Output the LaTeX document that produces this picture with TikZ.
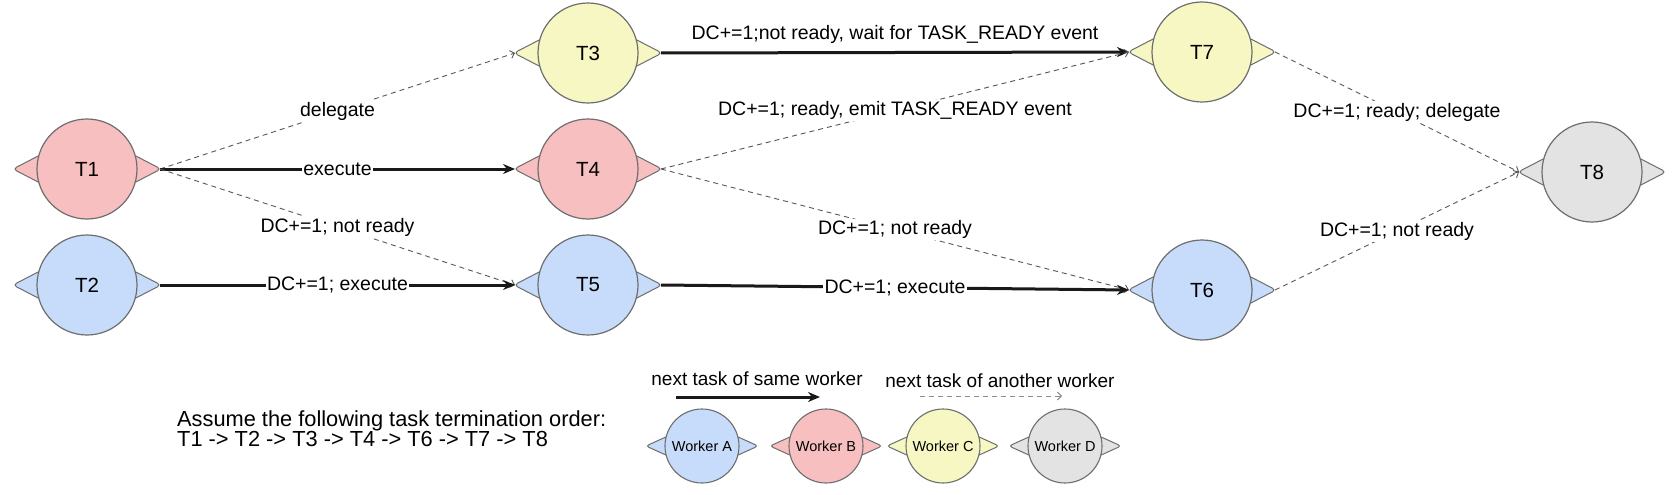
\documentclass[tikz,border=0pt]{standalone}
\usepackage{fontspec}
\setmainfont{Liberation Sans}
\usetikzlibrary{arrows.meta}
\definecolor{cpink}{RGB}{248,191,192}
\definecolor{cblue}{RGB}{199,219,250}
\definecolor{cyellow}{RGB}{247,247,196}
\definecolor{cgray}{RGB}{227,227,227}
\definecolor{cline}{RGB}{110,110,110}
\tikzset{
 task/.style={circle, draw=cline, line width=1.2pt, minimum size=100pt, inner sep=0pt, font=\fontsize{20.5}{24}\selectfont},
 worker/.style={circle, draw=cline, line width=1.1pt, minimum size=74pt, inner sep=0pt, font=\fontsize{14.5}{16}\selectfont},
 tri/.style={draw=cline, line width=1pt, rounded corners=4pt},
 seq/.style={line width=3pt, draw=black!90, -{Stealth[length=12pt,width=10pt]}},
 dep/.style={draw=black!65, line width=0.9pt, dash pattern=on 5pt off 4pt, -{Straight Barb[length=4pt,width=8pt]}},
 depl/.style={draw=black!45, line width=0.9pt, dash pattern=on 5pt off 4pt, -{Straight Barb[length=4pt,width=8pt]}},
 lbl/.style={fill=white, inner sep=1.5pt, font=\fontsize{19.5}{22}\selectfont, text=black},
 legtext/.style={inner sep=0pt, font=\fontsize{19}{21}\selectfont},
}
\newcommand{\tasknode}[5]{%
 \path[tri, fill=#4] (#2+45,#3-15) -- (#2+74,#3) -- (#2+45,#3+15) -- cycle;
 \path[tri, fill=#4] (#2-45,#3-15) -- (#2-74,#3) -- (#2-45,#3+15) -- cycle;
 \coordinate (#1-r) at (#2+73,#3);
 \coordinate (#1-l) at (#2-73,#3);
 \node[task, fill=#4] (#1) at (#2,#3) {#5};
}
\newcommand{\workernode}[5]{%
 \path[tri, fill=#4, rounded corners=3pt] (#2+34,#3-10) -- (#2+56,#3) -- (#2+34,#3+10) -- cycle;
 \path[tri, fill=#4, rounded corners=3pt] (#2-34,#3-10) -- (#2-56,#3) -- (#2-34,#3+10) -- cycle;
 \node[worker, fill=#4] (#1) at (#2,#3) {#5};
}
\begin{document}
\begin{tikzpicture}[x=1pt,y=-1pt]
\fill[white] (0,0) rectangle (1679,495);
\useasboundingbox (0,0) rectangle (1679,495);
\tasknode{T1}{87}{169}{cpink}{T1}
\tasknode{T2}{87}{285}{cblue}{T2}
\tasknode{T3}{588}{53}{cyellow}{T3}
\tasknode{T4}{588}{169}{cpink}{T4}
\tasknode{T5}{588}{285}{cblue}{T5}
\tasknode{T7}{1202}{52}{cyellow}{T7}
\tasknode{T6}{1202}{290}{cblue}{T6}
\tasknode{T8}{1592}{172}{cgray}{T8}

\draw[dep] (T1-r) -- node[lbl]{delegate} (T3-l);
\draw[seq] (T1-r) -- node[lbl]{execute} (T4-l);
\draw[dep] (T1-r) -- node[lbl]{DC+=1; not ready} (T5-l);
\draw[seq] (T2-r) -- node[lbl]{DC+=1; execute} (T5-l);
\draw[seq] (T3-r) -- node[lbl, fill=none, above=6pt]{DC+=1;not ready, wait for TASK\_READY event} (T7-l);
\draw[dep] (T4-r) -- node[lbl]{DC+=1; ready, emit TASK\_READY event} (T7-l);
\draw[dep] (T4-r) -- node[lbl]{DC+=1; not ready} (T6-l);
\draw[seq] (T5-r) -- node[lbl]{DC+=1; execute} (T6-l);
\draw[dep] (T7-r) -- node[lbl]{DC+=1; ready; delegate} (T8-l);
\draw[dep] (T6-r) -- node[lbl]{DC+=1; not ready} (T8-l);

% legend
\node[anchor=north west, align=left, inner sep=0pt, font=\fontsize{21.8}{20.5}\selectfont] (note) at (177,410)
 {Assume the following task termination order:\\T1 -> T2 -> T3 -> T4 -> T6 -> T7 -> T8};
\workernode{WA}{702}{446}{cblue}{Worker A}
\workernode{WB}{826}{446}{cpink}{Worker B}
\workernode{WC}{943}{446}{cyellow}{Worker C}
\workernode{WD}{1065}{446}{cgray}{Worker D}
\node[legtext] (lt1) at (757,379) {next task of same worker};
\node[legtext] (lt2) at (1000,381) {next task of another worker};
\coordinate (ls1) at (676,397);
\coordinate (ls2) at (820,397);
\coordinate (ld1) at (920,396);
\coordinate (ld2) at (1062,396);
\draw[seq] (ls1) -- (ls2);
\draw[depl] (ld1) -- (ld2);
\end{tikzpicture}
\end{document}
